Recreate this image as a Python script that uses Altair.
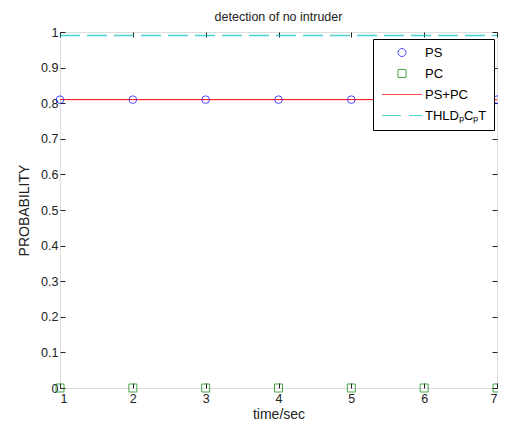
import altair as alt
import pandas as pd

time_sec = [1, 2, 3, 4, 5, 6, 7]
ps_vals = [0.81, 0.81, 0.81, 0.81, 0.81, 0.81, 0.81]
pc_vals = [0.0, 0.0, 0.0, 0.0, 0.0, 0.0, 0.0]
pspc_vals = [0.81, 0.81, 0.81, 0.81, 0.81, 0.81, 0.81]
thld_vals = [0.99, 0.99, 0.99, 0.99, 0.99, 0.99, 0.99]
series_names = ["PS", "PC", "PS+PC", "THLDₚCₚT"]
series_colors = ["#0000ff", "#008000", "#ff0000", "#00bfbf"]
y_ticks = [0, 0.1, 0.2, 0.3, 0.4, 0.5, 0.6, 0.7, 0.8, 0.9, 1]

PLOT_W, PLOT_H = 437, 356

# legend symbol paths (unit = 6 px), drawn relative to the legend symbol centre
leg_circle = "M1.91,0A0.67,0.67,0,1,1,3.25,0A0.67,0.67,0,1,1,1.91,0Z"
leg_square = "M1.91,-0.67H3.25V0.67H1.91Z"
leg_line = "M-0.75,0H5.92"
leg_dash = "M-0.75,0H2.42M3.75,0H5.92"

# dashed threshold line drawn as one symbol spanning the plot width (style only)
dash_len, gap_len = 20 / (PLOT_W / 2), 7 / (PLOT_W / 2)
segs, pos = [], -1.0
while pos < 1.0:
    end = min(pos + dash_len, 1.0)
    segs.append(f"M{pos:.4f},0H{end:.4f}")
    pos = end + gap_len
thld_path = "".join(segs)

pts_ps = pd.DataFrame({"t": time_sec, "v": ps_vals})
pts_pc = pd.DataFrame({"t": time_sec, "v": pc_vals})
line1 = pd.DataFrame({"t": time_sec, "v": pspc_vals})
thld_df = pd.DataFrame({"t": [(time_sec[0] + time_sec[-1]) / 2], "v": [thld_vals[0]]})
leg_df = pd.DataFrame({"s": series_names})

xs = alt.Scale(domain=[1, 7], nice=False, zero=False)
ys = alt.Scale(domain=[0, 1], nice=False)

axis_common = dict(offset=-5, tickSize=5, domain=False, grid=False, tickColor="#222",
                   labelFont="Liberation Sans", labelFontSize=12.5, labelColor="#222",
                   titleFont="Liberation Sans", titleFontSize=14, titleFontWeight="normal",
                   titleColor="#222")

thld_layer = alt.Chart(thld_df).mark_point(filled=False, shape=thld_path, size=PLOT_W ** 2,
                                           strokeWidth=1.6, color=series_colors[3], clip=False).encode(
    x=alt.X("t:Q", scale=xs, axis=None),
    y=alt.Y("v:Q", scale=ys, axis=None),
)

l1 = alt.Chart(line1).mark_line(strokeWidth=1, color=series_colors[2]).encode(
    x=alt.X("t:Q", scale=xs, axis=None),
    y=alt.Y("v:Q", scale=ys, axis=None),
)

ps_layer = alt.Chart(pts_ps).mark_point(filled=False, shape="circle", size=58, strokeWidth=1,
                                        color=series_colors[0], clip=False).encode(
    x=alt.X("t:Q", scale=xs, axis=alt.Axis(orient="bottom", values=time_sec, title="time/sec",
                                          labelPadding=4, titlePadding=3, **axis_common)),
    y=alt.Y("v:Q", scale=ys, axis=alt.Axis(orient="left", values=y_ticks, title="PROBABILITY",
                                          labelPadding=2, titlePadding=9,
                                          labelExpr="format(datum.value, '')", **axis_common)),
)

pc_layer = alt.Chart(pts_pc).mark_point(filled=False, shape="square", size=64, strokeWidth=1,
                                        color=series_colors[1], clip=False).encode(
    x=alt.X("t:Q", scale=xs, axis=alt.Axis(orient="top", values=time_sec, labels=False, title=None,
                                          offset=-5, tickSize=5, domain=False, grid=False, tickColor="#222")),
    y=alt.Y("v:Q", scale=ys, axis=alt.Axis(orient="right", values=y_ticks, labels=False, title=None,
                                          offset=-5, tickSize=5, domain=False, grid=False, tickColor="#222")),
)

legend_layer = alt.Chart(leg_df).transform_filter("false").mark_point(filled=False, strokeWidth=1).encode(
    color=alt.Color("s:N", scale=alt.Scale(domain=series_names, range=series_colors),
                    legend=alt.Legend(title=None, orient="none", legendX=313, legendY=7,
                                      strokeColor="#000000", fillColor="white", padding=7,
                                      symbolSize=144, symbolStrokeWidth=1, rowPadding=7,
                                      labelOffset=32, labelFontSize=13, labelFont="Liberation Sans",
                                      labelColor="#000000", cornerRadius=0)),
    shape=alt.Shape("s:N", scale=alt.Scale(domain=series_names,
                                           range=[leg_circle, leg_square, leg_line, leg_dash])),
)

chart = alt.layer(thld_layer, l1, ps_layer, pc_layer, legend_layer).resolve_axis(
    x="independent", y="independent").properties(
    width=PLOT_W, height=PLOT_H,
    title=alt.TitleParams("detection of no intruder", font="Liberation Sans", fontSize=12.5,
                          fontWeight="normal", color="#222", offset=3),
    autosize=alt.AutoSizeParams(type="none"),
    padding={"left": 52, "top": 24, "right": 1, "bottom": 35},
).configure_view(stroke="#333", strokeWidth=1).configure(background="white")

chart.save("out.html", embed_options={"renderer": "svg", "actions": False})
